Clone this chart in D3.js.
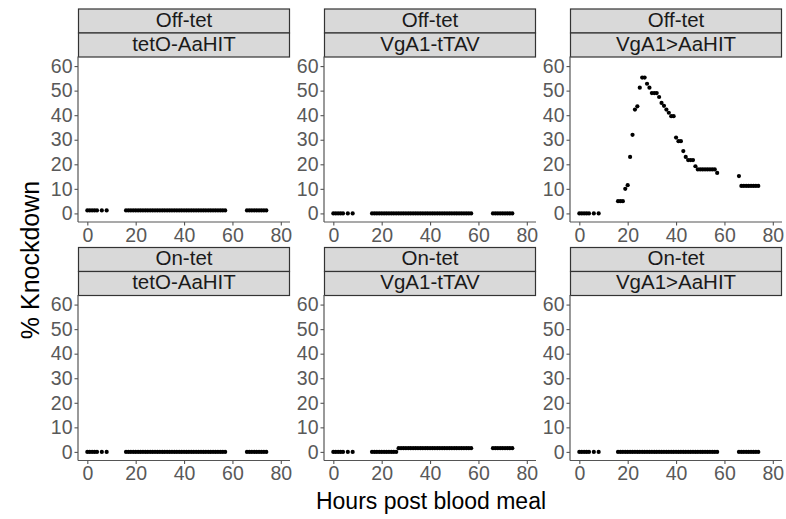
<!DOCTYPE html>
<html>
<head>
<meta charset="utf-8">
<script src="https://cdn.jsdelivr.net/npm/d3@7"></script>
<style>
  body { margin: 0; background: #fff; }
  svg { display: block; font-family: "Liberation Sans", Arial, sans-serif; }
</style>
</head>
<body>
<main></main>
<script>
// facet labels
const treatments = ["Off-tet", "On-tet"];
const lines = ["tetO-AaHIT", "VgA1-tTAV", "VgA1>AaHIT"];

// sampling times (hours post blood meal)
const hours = [0, 1, 2, 3, 4, 6, 8,
  16, 17, 18, 19, 20, 21, 22, 23, 24, 25, 26, 27, 28, 29, 30, 31, 32, 33, 34, 35,
  36, 37, 38, 39, 40, 41, 42, 43, 44, 45, 46, 47, 48, 49, 50, 51, 52, 53, 54, 55, 56, 57,
  66, 67, 68, 69, 70, 71, 72, 73, 74];

// % knockdown per panel, one value per entry of hours
const offTetO = [1.2, 1.2, 1.2, 1.2, 1.2, 1.2, 1.2,
  1.2, 1.2, 1.2, 1.2, 1.2, 1.2, 1.2, 1.2, 1.2, 1.2, 1.2, 1.2, 1.2, 1.2, 1.2, 1.2, 1.2, 1.2, 1.2, 1.2,
  1.2, 1.2, 1.2, 1.2, 1.2, 1.2, 1.2, 1.2, 1.2, 1.2, 1.2, 1.2, 1.2, 1.2, 1.2, 1.2, 1.2, 1.2, 1.2, 1.2, 1.2, 1.2,
  1.2, 1.2, 1.2, 1.2, 1.2, 1.2, 1.2, 1.2, 1.2];
const offTTAV = [0, 0, 0, 0, 0, 0, 0,
  0, 0, 0, 0, 0, 0, 0, 0, 0, 0, 0, 0, 0, 0, 0, 0, 0, 0, 0, 0,
  0, 0, 0, 0, 0, 0, 0, 0, 0, 0, 0, 0, 0, 0, 0, 0, 0, 0, 0, 0, 0, 0,
  0, 0, 0, 0, 0, 0, 0, 0, 0];
const offHIT = [0, 0, 0, 0, 0, 0, 0,
  5, 5, 5, 10, 11.5, 23, 32, 42.3, 43.6, 51.2, 55.3, 55.3, 52.8, 51.2, 49, 49, 49, 47.4, 45, 43.8,
  42.3, 41, 39.6, 39.6, 30.9, 29.4, 29.4, 25.4, 23, 21.7, 21.7, 21.7, 19.2, 17.9, 17.9, 17.9, 17.9, 17.9, 17.9, 17.9, 17.9, 16.5,
  15.2, 11.2, 11.2, 11.2, 11.2, 11.2, 11.2, 11.2, 11.2];
const onTetO = [0, 0, 0, 0, 0, 0, 0,
  0, 0, 0, 0, 0, 0, 0, 0, 0, 0, 0, 0, 0, 0, 0, 0, 0, 0, 0, 0,
  0, 0, 0, 0, 0, 0, 0, 0, 0, 0, 0, 0, 0, 0, 0, 0, 0, 0, 0, 0, 0, 0,
  0, 0, 0, 0, 0, 0, 0, 0, 0];
const onTTAV = [0, 0, 0, 0, 0, 0, 0,
  0, 0, 0, 0, 0, 0, 0, 0, 0, 0, 0, 1.5, 1.5, 1.5, 1.5, 1.5, 1.5, 1.5, 1.5, 1.5,
  1.5, 1.5, 1.5, 1.5, 1.5, 1.5, 1.5, 1.5, 1.5, 1.5, 1.5, 1.5, 1.5, 1.5, 1.5, 1.5, 1.5, 1.5, 1.5, 1.5, 1.5, 1.5,
  1.5, 1.5, 1.5, 1.5, 1.5, 1.5, 1.5, 1.5, 1.5];
const onHIT = [0, 0, 0, 0, 0, 0, 0,
  0, 0, 0, 0, 0, 0, 0, 0, 0, 0, 0, 0, 0, 0, 0, 0, 0, 0, 0, 0,
  0, 0, 0, 0, 0, 0, 0, 0, 0, 0, 0, 0, 0, 0, 0, 0, 0, 0, 0, 0, 0, 0,
  0, 0, 0, 0, 0, 0, 0, 0, 0];

const xTicks = [0, 20, 40, 60, 80];
const yTicks = [0, 10, 20, 30, 40, 50, 60];

const panelValues = [
  [offTetO, offTTAV, offHIT],
  [onTetO, onTTAV, onHIT],
];

const panels = [];
treatments.forEach((t, r) => {
  lines.forEach((l, c) => {
    panels.push({
      row: r, col: c, treatment: t, line: l,
      points: hours.map((h, i) => ({ hour: h, value: panelValues[r][c][i] })),
    });
  });
});

draw(document.querySelector("main"), panels);

function draw(el, panels) {
  const width = 786, height = 519;
  const panelW = 212, plotH = 165.5, stripH = 24;
  const colLeft = [78, 324, 570];
  const rowTop = [8.5, 247];

  const svg = d3.select(el)
    .append("svg")
    .attr("width", width)
    .attr("height", height);

  const x = d3.scaleLinear().domain([-3.85, 83.8]).range([0, panelW]);
  const y = d3.scaleLinear().domain([-3.5, 63.9]).range([plotH, 0]);

  panels.forEach((p) => {
    const g = svg.append("g")
      .attr("transform", `translate(${colLeft[p.col]},${rowTop[p.row]})`);

    // facet strips
    [p.treatment, p.line].forEach((label, i) => {
      g.append("rect")
        .attr("x", 0.5)
        .attr("y", i * stripH + 0.5)
        .attr("width", panelW - 1)
        .attr("height", stripH)
        .attr("fill", "#d9d9d9")
        .attr("stroke", "#333")
        .attr("stroke-width", 1.2);
      g.append("text")
        .attr("x", panelW / 2)
        .attr("y", i * stripH + stripH / 2 + 1)
        .attr("text-anchor", "middle")
        .attr("dominant-baseline", "middle")
        .attr("font-size", "20.5px")
        .attr("fill", "#1a1a1a")
        .text(label);
    });

    const plot = g.append("g")
      .attr("transform", `translate(0,${2 * stripH})`);

    // axes
    const xAxis = plot.append("g")
      .attr("transform", `translate(0,${plotH})`)
      .call(d3.axisBottom(x).tickValues(xTicks).tickSizeOuter(0).tickSize(3.5).tickPadding(2.5));
    const yAxis = plot.append("g")
      .call(d3.axisLeft(y).tickValues(yTicks).tickSizeOuter(0).tickSize(3.5).tickPadding(2));

    [xAxis, yAxis].forEach((a) => {
      a.select(".domain").attr("stroke", "#555").attr("stroke-width", 1.2);
      a.selectAll(".tick line").attr("stroke", "#555").attr("stroke-width", 1.1);
      a.selectAll("text")
        .attr("font-family", '"Liberation Sans", Arial, sans-serif')
        .attr("font-size", "19.5px")
        .attr("fill", "#595959");
    });
    // the axis lines run the full panel extent
    yAxis.select(".domain").attr("d", `M0,0V${plotH}`);
    xAxis.select(".domain").attr("d", `M0,0H${panelW}`);

    plot.append("g")
      .selectAll("circle")
      .data(p.points)
      .enter()
      .append("circle")
      .attr("cx", (d) => x(d.hour))
      .attr("cy", (d) => y(d.value))
      .attr("r", 2.1)
      .attr("fill", "#000");
  });

  // axis titles
  svg.append("text")
    .attr("x", 431)
    .attr("y", 509)
    .attr("text-anchor", "middle")
    .attr("font-size", "23px")
    .attr("fill", "#000")
    .text("Hours post blood meal");

  svg.append("text")
    .attr("transform", "translate(39,260) rotate(-90)")
    .attr("text-anchor", "middle")
    .attr("font-size", "25px")
    .attr("fill", "#000")
    .text("% Knockdown");
}
</script>
</body>
</html>
